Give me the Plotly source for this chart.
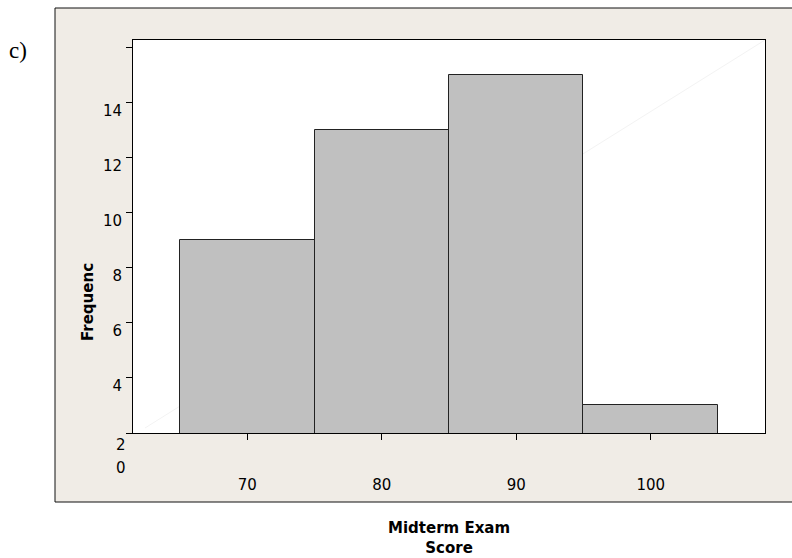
import plotly.graph_objects as go

# Data
bin_centers = [70, 80, 90, 100]
frequencies = [9, 13, 15, 3]
y_tick_vals = [2, 4, 6, 8, 10, 12, 14, 16]
y_tick_text = ["", "4", "6", "8", "10", "12", "14", ""]
x_tick_vals = [70, 80, 90, 100]
x_tick_text = ["70", "80", "90", "100"]
extra_y_labels = ["2", "0"]

W, H = 792, 558
L, R, T, B = 133, 27, 40, 125
pw, ph = W - L - R, H - T - B

def px_x(px):
    return (px - L) / pw

def px_y(py):
    return (H - B - py) / ph

font_main = "DejaVu Sans, Verdana, sans-serif"
FS = 15

fig = go.Figure()
fig.add_trace(go.Bar(
    x=bin_centers, y=frequencies, width=10,
    marker=dict(color="#c0c0c0", line=dict(color="#222222", width=1)),
    showlegend=False, hoverinfo="x+y",
))

shapes = [
    # beige outer frame
    dict(type="rect", xref="paper", yref="paper",
         x0=px_x(55), x1=px_x(805), y0=px_y(502), y1=px_y(8),
         fillcolor="#f0ece6", line=dict(color="#111111", width=1), layer="below"),
    # white plotting area
    dict(type="rect", xref="paper", yref="paper",
         x0=0, x1=1, y0=0, y1=1,
         fillcolor="#ffffff", line=dict(width=0), layer="below"),
    # faint diagonal artifact
    dict(type="line", xref="paper", yref="paper",
         x0=px_x(145), y0=px_y(428), x1=1, y1=1,
         line=dict(color="#f3f3f3", width=1), layer="below"),
]

annotations = [
    dict(text="c)", xref="paper", yref="paper", x=px_x(7), y=px_y(50),
         xanchor="left", yanchor="middle", showarrow=False,
         font=dict(family="Liberation Serif, Times New Roman, serif", size=23, color="#000")),
    dict(text="<b>Frequenc</b>", xref="paper", yref="paper", x=px_x(88), y=px_y(302),
         xanchor="center", yanchor="middle", showarrow=False, textangle=-90,
         font=dict(family=font_main, size=FS, color="#000")),
    dict(text="<b>Midterm Exam<br>Score</b>", xref="paper", yref="paper", x=0.5, y=px_y(538),
         xanchor="center", yanchor="middle", showarrow=False,
         font=dict(family=font_main, size=FS, color="#000")),
]
for lbl, ypix in zip(extra_y_labels, [445, 468]):
    annotations.append(dict(text=lbl, xref="paper", yref="paper", x=px_x(128), y=px_y(ypix),
                            xanchor="right", yanchor="middle", showarrow=False,
                            font=dict(family=font_main, size=FS, color="#000")))

fig.update_layout(
    width=W, height=H,
    margin=dict(l=L, r=R, t=T, b=B, autoexpand=False),
    paper_bgcolor="#ffffff", plot_bgcolor="#ffffff",
    bargap=0,
    shapes=shapes, annotations=annotations,
    font=dict(family=font_main, size=FS, color="#000"),
    xaxis=dict(range=[61.5, 108.5], tickvals=x_tick_vals, ticktext=x_tick_text,
               ticks="outside", ticklen=6, tickcolor="#000", showgrid=False, zeroline=False,
               showline=True, linecolor="#000", linewidth=1, mirror=True,
               ticklabelstandoff=32),
    yaxis=dict(range=[2, 16.27], tickvals=y_tick_vals, ticktext=y_tick_text,
               ticks="outside", ticklen=6, tickcolor="#000", showgrid=False, zeroline=False,
               showline=True, linecolor="#000", linewidth=1, mirror=True,
               ticklabelshift=8, ticklabelstandoff=1),
)

fig.write_html("out.html", config={"displayModeBar": False},
               post_script="document.body.style.margin='0';")
